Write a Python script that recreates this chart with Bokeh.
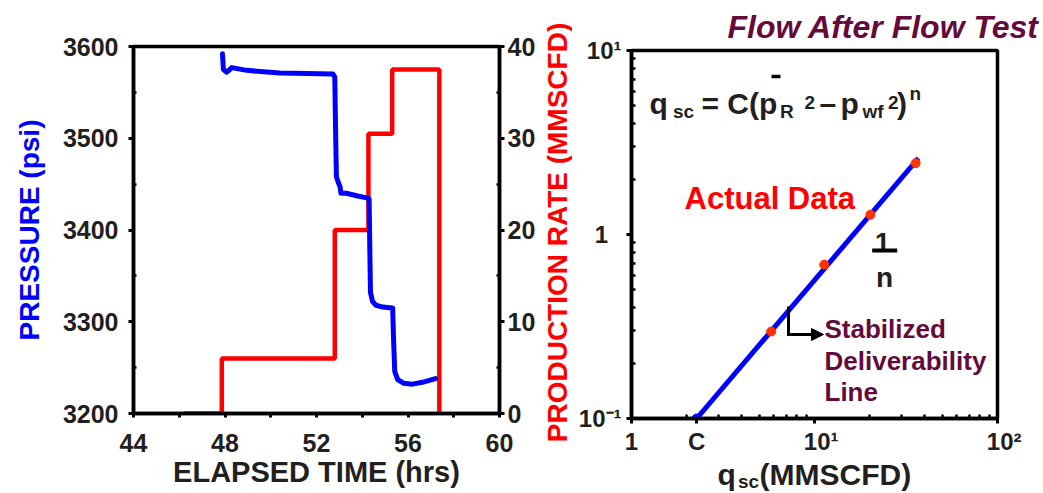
import math
from bokeh.plotting import figure
from bokeh.layouts import row, column
from bokeh.models import (Range1d, LinearAxis, FixedTicker, Label, Arrow, NormalHead)
from bokeh.embed import file_html
from bokeh.resources import INLINE

# ---------------- data: left chart (flow-after-flow test record) ----------------
time_hr = [47.89, 47.93, 48.08, 48.30, 48.95, 50.40, 52.72, 52.80, 52.84, 52.87,
           52.95, 53.03, 53.07, 53.30, 53.80, 54.20, 54.30, 54.33, 54.36, 54.45,
           54.60, 54.90, 55.33, 55.37, 55.42, 55.55, 55.80, 56.20, 56.63, 57.20]
pressure_psi = [3592, 3575, 3572, 3577, 3574, 3571, 3570, 3567, 3500, 3458,
                3452, 3447, 3440, 3440, 3437, 3435, 3434, 3380, 3332, 3322,
                3318, 3316, 3315, 3280, 3246, 3237, 3233, 3232, 3234, 3238]
rate_time = [46.2, 47.86, 52.8, 54.27, 55.31, 57.37]
rate_mmscfd = [0, 6, 20, 30.5, 37.5, 0]

time_ticks = [44, 46, 48, 50, 52, 54, 56, 58, 60]
time_labels = ["44", "", "48", "", "52", "", "56", "", "60"]
pressure_ticks = [3200, 3300, 3400, 3500, 3600]
pressure_minor = [3250, 3350, 3450, 3550]
rate_ticks = [0, 10, 20, 30, 40]
rate_minor = [5, 15, 25, 35]

# ---------------- data: right chart (deliverability plot) ----------------
q_data = [5.8, 11.3, 20.2, 35.7]
dp2_data = [0.297, 0.686, 1.28, 2.44]
line_q = [2.27, 37.0]
line_dp2 = [0.1, 2.6]
q_ticks = [1, line_q[0], 10, 100]
q_tick_labels = ["1", "C", "\u00a0\u00a010¹", "\u00a0\u00a010²"]
q_minor = [2, 3, 4, 5, 6, 7, 8, 9, 20, 30, 40, 50, 60, 70, 80, 90]
dp2_ticks = [0.1, 1, 10]
dp2_tick_labels = ["10⁻¹", "1\u00a0\u00a0", "10¹"]
dp2_minor = [0.2, 0.3, 0.4, 0.5, 0.6, 0.7, 0.8, 0.9, 2, 3, 4, 5, 6, 7, 8, 9]

FONT = "Liberation Sans"
INK = "#231f20"
MAROON = "#640b3c"
H = 493


def no_align(fig):
    try:
        fig.frame_align = False
    except Exception:
        pass


def lab(fig, text, x, y, size, color=INK, xu="screen", yu="screen", align="left",
        baseline="alphabetic", style="bold", angle=0.0):
    fig.add_layout(Label(text=text, x=x, y=y, x_units=xu, y_units=yu,
                         text_font=FONT, text_font_size=f"{size}px",
                         text_font_style=style, text_color=color, text_align=align,
                         text_baseline=baseline, angle=angle))


def seg(fig, x0, y0, x1, y1, width, head=None):
    fig.add_layout(Arrow(end=head, x_start=x0, y_start=y0, x_end=x1, y_end=y1,
                         start_units="screen", end_units="screen",
                         line_color="black", line_width=width))


def style_axis(ax, ticker, labels, tick_out=5, minor_in=0, standoff=8, size=25):
    ax.ticker = ticker
    ax.major_label_overrides = dict(zip(ticker.ticks, labels))
    ax.axis_line_width = 3.5
    ax.axis_line_color = "black"
    ax.major_tick_line_width = 3
    ax.major_tick_line_color = "black"
    ax.major_tick_out = tick_out
    ax.major_tick_in = 0
    ax.minor_tick_line_width = 2.5
    ax.minor_tick_line_color = "black"
    ax.minor_tick_in = minor_in
    ax.minor_tick_out = 0
    ax.major_label_standoff = standoff
    ax.major_label_text_font = FONT
    ax.major_label_text_font_size = f"{size}px"
    ax.major_label_text_font_style = "bold"
    ax.major_label_text_color = INK


def style_title(ax, text, size, color, standoff):
    ax.axis_label = text
    ax.axis_label_text_font = FONT
    ax.axis_label_text_font_size = f"{size}px"
    ax.axis_label_text_font_style = "bold"
    ax.axis_label_text_color = color
    ax.axis_label_standoff = standoff


def frame_style(fig):
    fig.xgrid.visible = False
    fig.ygrid.visible = False
    fig.outline_line_color = "black"
    fig.outline_line_width = 3.5
    fig.outline_line_alpha = 1.0
    fig.background_fill_color = "white"
    fig.border_fill_color = "white"
    no_align(fig)


def text_strip(w, h):
    s = figure(width=w, height=h, x_range=Range1d(0, w), y_range=Range1d(0, h),
               title=None, output_backend="svg", toolbar_location=None,
               x_axis_location=None, y_axis_location=None, min_border_left=0,
               min_border_right=0, min_border_top=0, min_border_bottom=0)
    s.xgrid.visible = False
    s.ygrid.visible = False
    s.outline_line_color = None
    s.background_fill_color = "white"
    s.border_fill_color = "white"
    no_align(s)
    return s


# =============== LEFT FIGURE ===============
W1 = 538
pl = figure(width=W1, height=H, x_range=Range1d(44, 60), y_range=Range1d(3200, 3600),
            output_backend="svg", toolbar_location=None,
            min_border_left=133, min_border_right=W1 - 501, min_border_top=46,
            min_border_bottom=H - 413)
pl.extra_y_ranges = {"rate": Range1d(0, 40)}
pl.add_layout(LinearAxis(y_range_name="rate"), "right")
frame_style(pl)

style_axis(pl.xaxis[0], FixedTicker(ticks=time_ticks), time_labels, tick_out=4, standoff=16)
style_axis(pl.yaxis[0], FixedTicker(ticks=pressure_ticks, minor_ticks=pressure_minor),
           [str(v) for v in pressure_ticks], tick_out=5, minor_in=3, standoff=10)
style_axis(pl.yaxis[1], FixedTicker(ticks=rate_ticks, minor_ticks=rate_minor),
           [str(v) for v in rate_ticks], tick_out=5, minor_in=3, standoff=3)
style_title(pl.xaxis[0], "ELAPSED TIME (hrs)", 29, INK, 1)
style_title(pl.yaxis[0], "PRESSURE (psi)", 28, "#0000ff", 15)

pl.step(rate_time, rate_mmscfd, mode="after", y_range_name="rate",
        line_color="#ff0000", line_width=4.5)
pl.line(time_hr, pressure_psi, line_color="#0000ff", line_width=5,
        line_join="round", line_cap="round")

# narrow strip right of the left chart: rate axis title, reading bottom to top
W_V = 572 - W1
sv = text_strip(W_V, H)
lab(sv, "PRODUCTION RATE (MMSCFD)", 557 - W1, H - 232, 28, color="#ff0000",
    xu="data", yu="data", align="center", baseline="middle", angle=math.pi / 2)

# =============== RIGHT FIGURE ===============
X2 = 572
W2 = 1043 - X2
FL, FB = 631, 418     # canvas coords of right frame's left / bottom edge
H2 = 458
pr = figure(width=W2, height=H2, x_axis_type="log", y_axis_type="log",
            x_range=Range1d(1, 100), y_range=Range1d(0.1, 10),
            output_backend="svg", toolbar_location=None,
            min_border_left=FL - X2, min_border_right=W2 - (997 - X2),
            min_border_top=50, min_border_bottom=H2 - FB)
frame_style(pr)
style_axis(pr.xaxis[0], FixedTicker(ticks=q_ticks, minor_ticks=q_minor), q_tick_labels,
           tick_out=5, minor_in=4, standoff=4, size=24)
style_axis(pr.yaxis[0], FixedTicker(ticks=dp2_ticks, minor_ticks=dp2_minor), dp2_tick_labels,
           tick_out=5, minor_in=4, standoff=5, size=24)

pr.title.text = "Flow After Flow Test"
pr.title.text_font = FONT
pr.title.text_font_size = "32px"
pr.title.text_font_style = "bold italic"
pr.title.text_color = MAROON
pr.title.align = "left"
pr.title.offset = 96
pr.title.standoff = 12

pr.line(line_q, line_dp2, line_color="#0000ff", line_width=5)
pr.scatter(line_q[:1], line_dp2[:1], size=9, color="#0000ff")
pr.scatter(q_data, dp2_data, size=9, color="#ff3300", line_color="#ff3300")


def sx(px):
    return px - FL


def sy(py):
    return FB - py


# equation  q_sc = C(p̄_R^2 – p_wf^2)^n
eq_parts = [("q", 649, 103.3, 30), ("sc", 672.5, 110.5, 19), ("= C(p", 701, 103.3, 30),
            ("R", 779.5, 111, 19), ("2", 804, 101.5, 19), ("–", 819, 103.3, 30),
            ("p", 840, 103.3, 30), ("wf", 862, 110.5, 19), ("2", 887.5, 101.5, 19),
            (")", 896.5, 103.3, 30), ("n", 909, 93, 19)]
for txt, px, py, fs in eq_parts:
    lab(pr, txt, sx(px), sy(py), fs)
seg(pr, sx(771), sy(76), sx(780), sy(76), 3.5)          # bar over p

# slope 1/n
lab(pr, "1", sx(882), sy(242), 28, align="center")
lab(pr, "n", sx(884), sy(276.7), 28, align="center")
seg(pr, sx(871.7), sy(250), sx(896.7), sy(250), 4)

lab(pr, "Actual Data", sx(684), sy(197.7), 31, color="#ff0000")
lab(pr, "Stabilized", sx(824), sy(328), 26, color=MAROON)
lab(pr, "Deliverability", sx(824), sy(360), 26, color=MAROON)
lab(pr, "Line", sx(824), sy(391.7), 26, color=MAROON)

seg(pr, sx(788), sy(306), sx(788), sy(334), 3)
seg(pr, sx(786.5), sy(334), sx(823), sy(334), 3,
    head=NormalHead(size=12, fill_color="black", line_color="black", line_width=1))

# strip under the right chart carrying the x-axis title with its subscript
# (the strip is laid out ~11 px lower than its nominal place, hence SHIFT)
H3 = H - H2
SHIFT = 11
sb = text_strip(W2, H3)
lab(sb, "q", 717 - X2, H - 485 + SHIFT, 30, xu="data", yu="data")
lab(sb, "sc", 737.5 - X2, H - 491.5 + SHIFT, 19, xu="data", yu="data")
lab(sb, "(MMSCFD)", 759 - X2, H - 485 + SHIFT, 30, xu="data", yu="data")

layout = row(pl, sv, column(pr, sb))
open("out.html", "w").write(file_html(layout, INLINE))
